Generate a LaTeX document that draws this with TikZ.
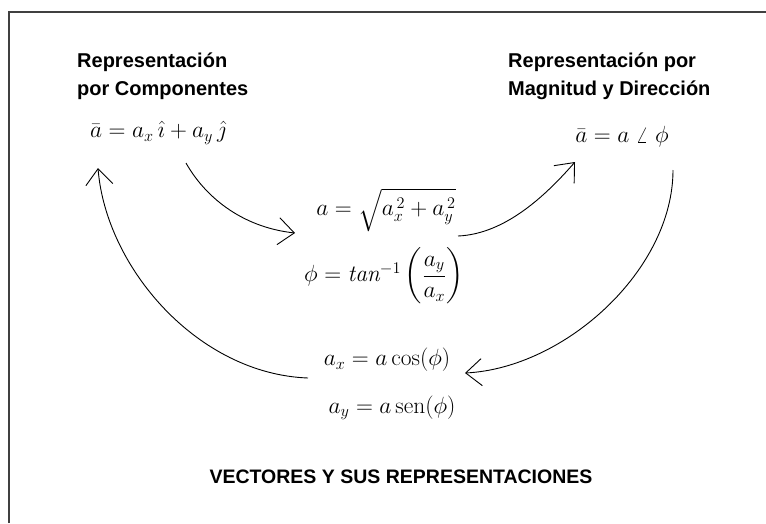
\documentclass[tikz,border=0pt]{standalone}
\usepackage{amsmath}
\usepackage{fontspec}
\newfontfamily\rotfont{Liberation Sans}
\usetikzlibrary{positioning, arrows.meta}
\newcommand{\fgrande}[1]{\scalebox{1.13}{$#1$}}

\begin{document}
\begin{tikzpicture}[x=1pt, y=-1pt, every node/.style={inner sep=0pt},
    rotulo/.style={font=\rotfont\bfseries\fontsize{20}{28}\selectfont, align=left},
    formula/.style={font=\fontsize{20.74}{25}\selectfont},
    flecha/.style={-{Straight Barb[length=16pt,width=27pt]}, line width=0.9pt}]
    \useasboundingbox (0,0) rectangle (766,523);

    % marco (solo lados izquierdo y superior)
    \draw[line width=1.5pt, black!75] (9,523) -- (9,12) -- (766,12);

    % representacion por componentes
    \node[rotulo, anchor=west] (comp) at (77,76) {Representación\\por Componentes};
    \node[formula] (compf) at (158,133) {\fgrande{\bar{a} = a_x\,\hat{\imath} + a_y\,\hat{\jmath}}};

    % representacion por magnitud y direccion
    \node[rotulo, anchor=west] (mag) at (508,76) {Representación por\\Magnitud y Dirección};
    \node[formula] (magf) at (622,137) {\fgrande{\bar{a} = a\;\angle\;\phi}};

    % de componentes a magnitud
    \node[formula] (modf) at (386,210) {\fgrande{a = \sqrt{a_x^{\,2} + a_y^{\,2}}}};
    \node[formula] (angf) at (384,276) {\fgrande{\phi = \mathit{tan}^{-1}\left(\dfrac{a_y}{a_x}\right)}};

    % de magnitud a componentes
    \node[formula] (axf) at (387,360) {\fgrande{a_x = a\cos(\phi)}};
    \node[formula] (ayf) at (392,408) {\fgrande{a_y = a\,\mathrm{sen}(\phi)}};

    % titulo
    \node[rotulo, font=\rotfont\bfseries\fontsize{19.5}{24}\selectfont] (tit) at (401,477) {VECTORES Y SUS REPRESENTACIONES};

    % flechas del ciclo
    \draw[flecha] ([shift={(28,30)}]compf.center) .. controls +(18,32) and +(-55,-6) .. ([shift={(-91,23)}]modf.center);
    \draw[flecha] ([shift={(72,26)}]modf.center) .. controls +(48,-2) and +(-28,32) .. ([shift={(-47,25)}]magf.center);
    \draw[flecha] ([shift={(51,33)}]magf.center) .. controls +(0,100) and +(100,-5) .. ([shift={(78,13)}]axf.center);
    \draw[flecha] ([shift={(-79,18)}]axf.center) .. controls +(-110,-4) and +(8,100) .. ([shift={(-60,35)}]compf.center);
\end{tikzpicture}
\end{document}
